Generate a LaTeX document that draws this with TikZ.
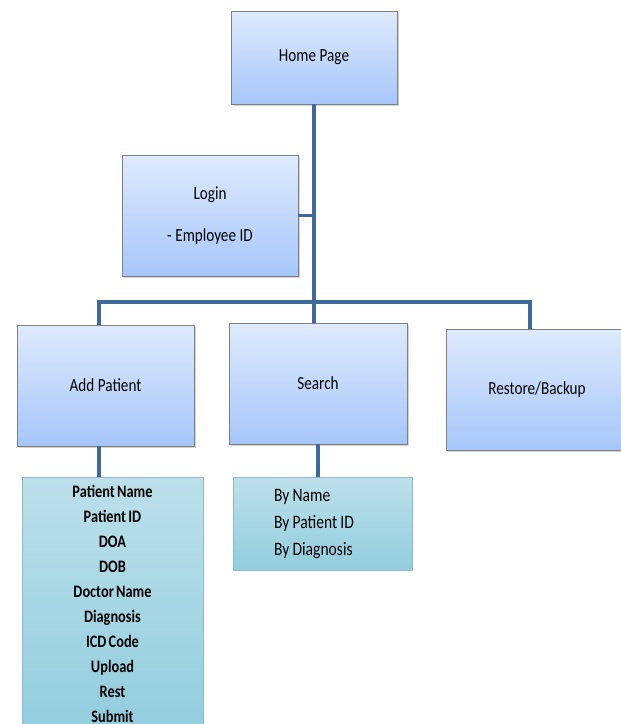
\documentclass[tikz,border=0pt]{standalone}
\usepackage{fontspec}
\setmainfont{Carlito}[FakeStretch=0.82]
\usetikzlibrary{shadows}
\definecolor{linec}{RGB}{64,104,152}
\definecolor{boxtop}{RGB}{222,234,252}
\definecolor{boxbot}{RGB}{166,198,250}
\definecolor{boxborder}{RGB}{128,128,128}
\definecolor{listtop}{RGB}{188,224,234}
\definecolor{listbot}{RGB}{146,205,222}
\definecolor{listborder}{RGB}{140,184,214}
\newcommand\mymainfont{\fontsize{18.5}{21}\selectfont\setlength{\spaceskip}{3.6pt plus 1pt}}
\newcommand\myplistfont{\bfseries\fontsize{17.5}{25}\selectfont\setlength{\spaceskip}{2.2pt plus 0.5pt}}
\newcommand\myslistfont{\fontsize{19}{27}\selectfont\setlength{\spaceskip}{3.2pt plus 1pt}}
\begin{document}
\begin{tikzpicture}[x=1pt,y=1pt,
  mainbox/.style={draw=boxborder, line width=0.6pt, top color=boxtop, bottom color=boxbot,
    drop shadow={shadow xshift=1.5pt, shadow yshift=-2pt, opacity=0.35},
    minimum width=177pt, minimum height=121pt, inner sep=0pt, align=center,
    font=\mymainfont},
  listbox/.style={draw=listborder, line width=0.8pt, top color=listtop, bottom color=listbot,
    inner xsep=0pt},
  conn/.style={draw=linec, line width=3.2pt}
]
\fill[white] (0,0) rectangle (621,-724);
\clip (0,0) rectangle (621,-724);

\node[mainbox, minimum width=166pt, minimum height=93pt] (home) at (314,-57.5) {Home Page};
\node[mainbox, minimum width=176pt] (login) at (210,-215.5) {Login\\[21pt]- Employee ID};
\node[mainbox] (addp) at (105.5,-385.5) {Add Patient};
\node[mainbox, minimum width=178pt] (search) at (318,-383.5) {Search};
\node[mainbox, minimum width=182pt] (restore) at (537,-389.5) {Restore/Backup};

\node[listbox, anchor=north, minimum width=181pt, inner ysep=8pt, align=center,
  font=\myplistfont] (plist) at (112.5,-477)
  {Patient Name\\Patient ID\\DOA\\DOB\\Doctor Name\\Diagnosis\\ICD Code\\Upload\\Rest\\Submit};
\node[listbox, anchor=north, minimum width=179pt, minimum height=93pt, align=left,
  font=\myslistfont] (slist) at (322.5,-477)
  {\makebox[97pt][l]{By Name}\\By Patient ID\\By Diagnosis};

\coordinate (j) at (314,-302);
\coordinate (bl) at (99,-302);
\coordinate (br) at (530,-302);

\draw[conn] (home.south) -- (j);
\draw[conn] (login.east) -- (login.east -| j);
\draw[conn] ([xshift=-1.6pt]bl) -- ([xshift=1.6pt]br);
\draw[conn] (bl) -- (bl |- addp.north);
\draw[conn] (j) -- (j |- search.north);
\draw[conn] (br) -- (br |- restore.north);
\draw[conn] (bl |- addp.south) -- (bl |- plist.north);
\draw[conn] (search.south) -- (search.south |- slist.north);
\end{tikzpicture}
\end{document}
